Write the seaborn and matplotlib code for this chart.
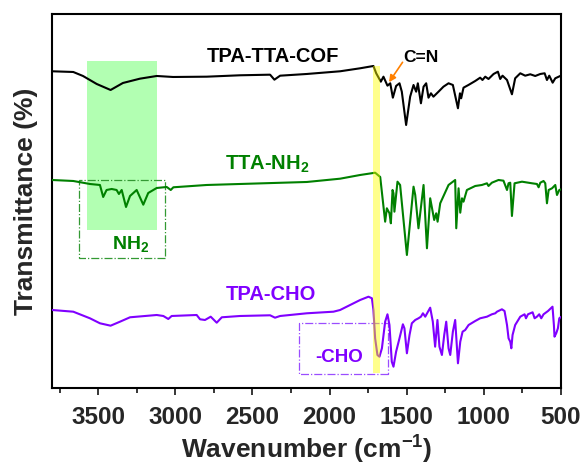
import matplotlib
matplotlib.use("Agg")
import matplotlib.pyplot as plt
import seaborn as sns
from matplotlib.patches import Rectangle
from matplotlib.ticker import MultipleLocator

# ---------------- data ----------------
wn_cof = [3800,3662,3599,3510,3420,3340,3230,3121,3015,2797,2581,2386,2358,2321,2148,1932,1802,1716,1698,1668,
          1651,1625,1607,1590,1569,1547,1532,1504,1478,1456,1439,1428,1408,1391,1374,1359,1343,1327,1294,1262,
          1229,1201,1168,1155,1147,1132,1100,1056,1024,1009,991,970,937,909,894,879,850,818,797,764,
          732,699,667,634,606,591,576,554,537,505,500]
t_cof = [316.7,316,312,304,298,305,309.3,312,311,311.3,312.7,313.3,308.3,312.3,314,316.7,319.7,322,314.7,306.3,
         311.3,302.3,304.7,290.3,302,304.7,296.3,263,291.3,303,296.3,304.7,284.7,301.3,304.7,290.3,294.7,291.3,296.3,301.3,
         304.7,303,279.7,294.7,289.7,300.3,303,307,310.3,308,311.3,309,314,316.3,309,312.3,308,293.7,309.7,314.7,
         312.3,313.7,312,314,314.7,308,312.3,305.3,309.7,312,312]

wn_nh2 = [3800,3662,3554,3489,3468,3446,3413,3381,3366,3348,3320,3294,3251,3208,3176,3121,3056,3030,3013,2797,
          2581,2365,2148,1932,1802,1716,1705,1672,1640,1629,1612,1603,1592,1586,1580,1560,1543,1499,1456,1445,
          1424,1391,1369,1348,1322,1309,1300,1283,1229,1186,1179,1164,1153,1142,1132,1110,1056,1013,980,970,
          948,905,873,850,840,829,818,801,753,688,656,645,634,613,602,591,580,558,537,526,511,498]
t_nh2 = [208,207,204,203,191,198,199,198,194,198,181,192,198,183.3,195,200,201,198,200.7,203,
         204,205,206,209.3,213,215,215.3,211,166.3,179.7,174.7,164.7,198,194.7,176.3,206.3,203,133,201.3,193,
         159.7,203,139.7,189.7,168,174.7,166.3,184.7,203,208,159.7,199.7,175.3,189.7,186.3,198,202,203,204.7,202,
         205.3,208,207.3,198,204.7,205.3,172,204.7,206.3,204.7,204,200.7,205.3,207,204.7,184.7,198,199.7,203,193,198,198.7]

wn_cho = [3800,3662,3554,3489,3420,3359,3294,3121,3078,3046,3024,2862,2840,2808,2771,2732,2699,2581,2386,2354,
          2321,2148,1975,1932,1802,1748,1726,1716,1705,1690,1677,1661,1640,1625,1612,1597,1586,1569,1547,1525,
          1515,1499,1482,1467,1445,1424,1408,1395,1380,1348,1331,1316,1301,1288,1272,1257,1244,1229,1218,1201,
          1186,1168,1153,1138,1121,1099,1056,1024,980,948,926,915,883,866,850,840,829,822,814,797,
          764,736,727,714,684,671,656,641,628,613,584,555,546,542,531,520,511,498]
t_cho = [78,76.3,69.7,64.7,62.3,66.3,70.7,73,72,69,72,73,68.7,68,71.3,65.3,70.7,72,72.7,70.3,
         72,74.7,76.3,78,88,91.3,89.7,78,49.7,33,31.3,39.7,66.3,73.7,63,26.3,21.3,36.3,49.7,63.7,
         59.7,34.7,53,64.7,68,69.7,71.3,74.7,71.3,80.3,66.3,41.3,68,41.3,33,53,66.3,39.7,33,56.3,
         68,24.7,46.3,56.3,58,63,67,69.7,71.3,73.7,74.7,76.3,78.7,77,63,49.7,46.3,39.7,53,63,
         71.3,73.7,69.7,73.7,75.7,69.7,71.3,73.7,69.7,73.7,77,81.3,63,51.3,54.7,59.7,69.7,71.3]

series_names = ["TPA-TTA-COF", "TTA-NH$_2$", "TPA-CHO"]
x_ticks = [3500, 3000, 2500, 2000, 1500, 1000, 500]

# ---------------- style ----------------
sns.set_theme(style="ticks")
plt.rcParams["font.family"] = ["Liberation Sans", "DejaVu Sans"]
plt.rcParams["font.weight"] = "bold"
plt.rcParams["mathtext.fontset"] = "custom"
plt.rcParams["mathtext.rm"] = "Liberation Sans:bold"
plt.rcParams["mathtext.bf"] = "Liberation Sans:bold"
plt.rcParams["mathtext.it"] = "Liberation Sans:bold"
plt.rcParams["mathtext.default"] = "bf"

C_BLACK = "#000000"
C_GREEN = "#008000"
C_PURPLE = "#8000ff"

fig = plt.figure(figsize=(5.84, 4.66), dpi=100)
ax = fig.add_axes([0.089, 0.1674, 0.9606 - 0.089, 0.97 - 0.1674])

# green highlighted band (below lines)
ax.add_patch(Rectangle((3117, 158), 3572 - 3117, 327 - 158, facecolor="#00ff00", alpha=0.3,
                       edgecolor="none", zorder=1))

sns.lineplot(x=wn_cof, y=t_cof, color=C_BLACK, lw=1.5, ax=ax, estimator=None, zorder=3)
sns.lineplot(x=wn_nh2, y=t_nh2, color=C_GREEN, lw=1.5, ax=ax, estimator=None, zorder=3)
sns.lineplot(x=wn_cho, y=t_cho, color=C_PURPLE, lw=1.5, ax=ax, estimator=None, zorder=3)

# yellow band (above lines)
ax.add_patch(Rectangle((1674, 15), 1722 - 1674, 322 - 15, facecolor="#ffff00", alpha=0.45,
                       edgecolor="none", zorder=4))

# dash-dot boxes
ax.add_patch(Rectangle((3070, 130), 3622 - 3070, 208 - 130, facecolor="none", edgecolor="#339933",
                       lw=0.9, ls="-.", zorder=2))
ax.add_patch(Rectangle((1621, 13.7), 2197 - 1621, 65.3 - 13.7, facecolor="none", edgecolor="#9a4dff",
                       lw=0.9, ls="-.", zorder=2))

# labels
ax.text(2367, 326.3, series_names[0], color=C_BLACK, fontsize=14.5, fontweight="bold", ha="center", va="baseline")
ax.text(2406, 218, series_names[1], color=C_GREEN, fontsize=14.5, fontweight="bold", ha="center", va="baseline")
ax.text(2383, 88, series_names[2], color=C_PURPLE, fontsize=14.5, fontweight="bold", ha="center", va="baseline")
ax.text(3292, 139, "NH$_2$", color=C_GREEN, fontsize=14, fontweight="bold", ha="center", va="baseline")
ax.text(1938, 26.3, "-CHO", color=C_PURPLE, fontsize=13.5, fontweight="bold", ha="center", va="baseline")
ax.text(1406, 326.3, "C=N", color=C_BLACK, fontsize=12.5, fontweight="bold", ha="center", va="baseline")
ax.annotate("", xy=(1625, 303.5), xytext=(1517, 328),
            arrowprops=dict(arrowstyle="-|>", color="#ff8000", lw=1.2, mutation_scale=10), zorder=5)

ax.set_xlim(3800, 500)
ax.set_ylim(0, 374)
ax.set_xticks(x_ticks)
ax.set_xticklabels([str(v) for v in x_ticks])
ax.xaxis.set_minor_locator(MultipleLocator(250))
ax.set_yticks([])
ax.tick_params(axis="x", which="major", direction="out", length=5, width=1.3, labelsize=17.5, pad=8)
ax.tick_params(axis="x", which="minor", direction="out", length=3.5, width=1.3)
for lab in ax.get_xticklabels():
    lab.set_fontweight("bold")
for sp in ax.spines.values():
    sp.set_visible(True)
    sp.set_linewidth(1.5)
    sp.set_color("black")

ax.set_xlabel("Wavenumber (cm$^{-1}$)", fontsize=19, fontweight="bold", labelpad=3.5)
ax.set_ylabel("Transmittance (%)", fontsize=19, fontweight="bold", labelpad=10)

fig.savefig("out.png", dpi=100)
